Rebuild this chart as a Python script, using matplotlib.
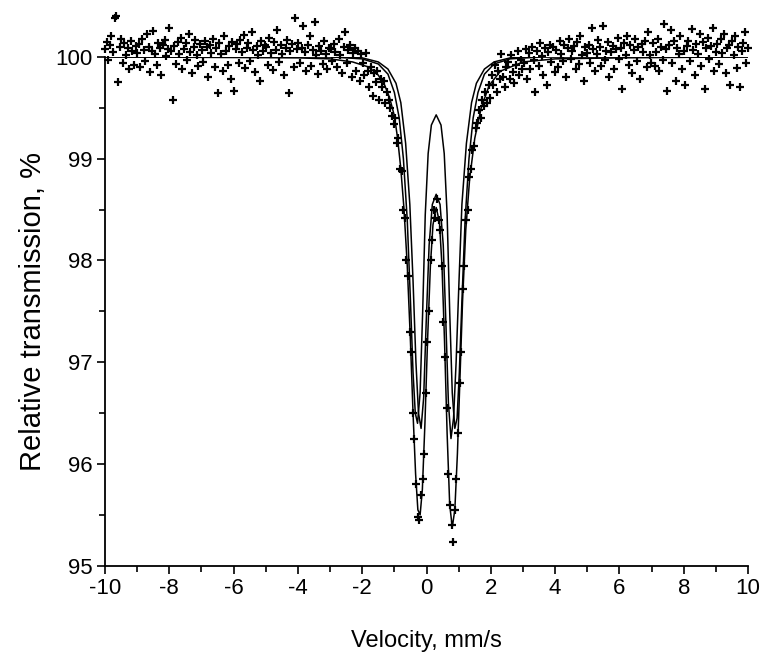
import numpy as np
import matplotlib
matplotlib.use("Agg")
import matplotlib.pyplot as plt
from matplotlib.ticker import MultipleLocator

plt.rcParams['font.family'] = ['Liberation Sans', 'DejaVu Sans']
plt.rcParams['axes.unicode_minus'] = False

# measured spectrum: 400 velocity channels, deviation from 100 % in hundredths of a percent
v_min, v_max, n_chan = -10.0, 10.0, 400
dev = [
    8, 15, -3, 12, 20, 5, 38, 40, -25, 10, 18, -6, 14, 2, 9, -12, 16, 6, -8, 11,
    4, 13, -10, 18, 7, -4, 22, 10, -15, 6, 25, 3, -8, 14, 9, -18, 12, 17, 1, 8,
    28, 6, -42, 11, -7, 15, 3, 19, -12, 8, 14, -3, 22, 5, -16, 10, 17, 2, -9, 13,
    7, -5, 16, 10, -20, 12, 4, 18, -10, 9, -36, 14, 3, -14, 20, 6, -8, 11, -22, 15,
    -34, 8, 13, -6, 17, 5, 21, -11, 9, 14, -4, 24, 7, -15, 11, 2, -24, 16, 6, 12,
    10, -8, 19, 4, -13, 15, 7, 26, -5, 12, 3, -18, 9, 17, -36, 6, 13, -10, 38, 8,
    14, -6, 9, 30, 5, -14, 12, 20, -9, 7, 34, 2, -17, 11, 6, -7, 16, 3, -12, 9,
    8, -4, 13, 5, -10, 18, 2, -16, 10, 24, -6, 7, 12, -20, 4, 9, -14, 6, -24, 3,
    -6, -18, 4, -14, -30, -10, -38, -16, -25, -14, -42, -22, -30, -24, -45, -35, -42, -50, -58, -66,
    -60, -85, -80, -110, -112, -150, -158, -200, -215, -270, -290, -350, -375, -420, -452, -455, -430, -415, -390, -330,
    -280, -250, -200, -180, -150, -158, -140, -160, -170, -205, -260, -295, -345, -410, -440, -460, -477, -445, -415, -370,
    -320, -290, -228, -205, -160, -150, -118, -110, -92, -88, -70, -65, -52, -60, -42, -48, -35, -45, -28, -40,
    -18, -28, -8, -35, -14, -22, 3, -20, -30, -10, -5, -22, 2, -15, -26, -8, 6, -18, -3, -12,
    -6, 8, -22, 4, -12, 10, -3, -35, 6, -9, 14, 1, -18, 9, -28, 5, 12, -5, 10, -15,
    7, -10, 16, 3, -4, 12, -20, 9, 18, -2, 6, 11, -12, 15, -7, 20, 2, -24, 10, 4,
    12, -6, 28, 8, -14, 3, 17, 10, -9, 30, -3, 6, 15, -20, 5, 11, -12, 8, 19, -2,
    9, -32, 14, 2, 20, -8, 12, -16, 7, 18, -4, 10, -22, 13, 5, 16, -10, 24, 2, -6,
    14, -9, 5, 18, -14, 10, -3, 32, 8, -34, 12, 26, -6, 16, -24, 9, 3, 20, -12, 6,
    -28, 11, 16, -4, 27, 7, -18, 13, 3, 22, -9, 15, -32, 9, 19, -2, 11, 28, -14, 5,
    13, -7, 18, 4, 22, -16, 9, 12, -28, 16, 2, 20, -11, 10, -30, 6, 14, 24, -6, 9,
]

# fitted envelope
fit_v = [-10, -4, -3, -2.3, -1.8, -1.5, -1.3, -1.15, -1.0, -0.9, -0.8, -0.7, -0.6, -0.5, -0.42,
         -0.34, -0.27, -0.2, -0.13, -0.05, 0.03, 0.12, 0.2, 0.3, 0.4, 0.48, 0.56, 0.64, 0.72,
         0.8, 0.88, 0.96, 1.04, 1.12, 1.22, 1.34, 1.5, 1.7, 1.95, 2.3, 3, 4, 6, 10]
fit_t = [100.0, 99.99, 99.98, 99.95, 99.9, 99.82, 99.72, 99.6, 99.42, 99.2, 98.9, 98.5, 97.95, 97.2, 96.5,
         95.9, 95.55, 95.5, 95.75, 96.4, 97.2, 97.95, 98.35, 98.52, 98.38, 97.95, 97.2, 96.3, 95.6,
         95.38, 95.55, 96.1, 96.85, 97.6, 98.3, 98.8, 99.2, 99.5, 99.72, 99.86, 99.95, 99.98, 99.99, 100.0]

# doublet 1 (wide splitting)
d1_v = [-10, -3, -2, -1.5, -1.2, -1.0, -0.85, -0.72, -0.6, -0.5, -0.42, -0.35, -0.28, -0.2, -0.12,
        -0.04, 0.05, 0.15, 0.3, 0.45, 0.55, 0.64, 0.72, 0.8, 0.88, 0.95, 1.02, 1.1, 1.2, 1.32,
        1.45, 1.6, 1.8, 2.1, 2.6, 3.6, 10]
d1_t = [100.0, 100.0, 99.98, 99.93, 99.83, 99.65, 99.4, 99.0, 98.4, 97.6, 96.9, 96.5, 96.4, 96.7, 97.5,
        98.45, 99.05, 99.33, 99.43, 99.33, 99.05, 98.45, 97.5, 96.7, 96.35, 96.45, 96.9, 97.6, 98.4, 99.0,
        99.4, 99.65, 99.83, 99.93, 99.98, 100.0, 100.0]

# doublet 2 (narrow splitting)
d2_v = [-10, -3, -2, -1.5, -1.2, -0.95, -0.8, -0.65, -0.52, -0.42, -0.33, -0.25, -0.17, -0.09, -0.01,
        0.08, 0.18, 0.3, 0.42, 0.52, 0.6, 0.68, 0.76, 0.84, 0.92, 1.01, 1.1, 1.24, 1.4, 1.55,
        1.8, 2.1, 2.6, 3.6, 10]
d2_t = [100.0, 100.0, 99.99, 99.95, 99.88, 99.74, 99.55, 99.15, 98.55, 97.8, 97.0, 96.5, 96.35, 96.65, 97.4,
        98.15, 98.55, 98.65, 98.55, 98.15, 97.4, 96.6, 96.25, 96.45, 97.0, 97.8, 98.55, 99.15, 99.55, 99.74,
        99.88, 99.95, 99.99, 100.0, 100.0]

velocity = np.linspace(v_min, v_max, n_chan)
trans = 100 + np.array(dev) / 100.0

fig = plt.figure(figsize=(7.61, 6.61), dpi=100)
ax = fig.add_axes([0.138, 0.144, 0.845, 0.770])

ax.plot(velocity, trans, linestyle='none', marker='+', color='black',
        markersize=5.5, markeredgewidth=1.6, clip_on=False)
for xs, ys in [(fit_v, fit_t), (d1_v, d1_t), (d2_v, d2_t)]:
    ax.plot(xs, ys, color='black', linewidth=1.1)

ax.set_xlim(-10, 10)
ax.set_ylim(95, 100)
ax.xaxis.set_major_locator(MultipleLocator(2))
ax.xaxis.set_minor_locator(MultipleLocator(1))
ax.yaxis.set_major_locator(MultipleLocator(1))
ax.yaxis.set_minor_locator(MultipleLocator(0.5))
ax.tick_params(which='major', direction='out', length=6, width=1.2, labelsize=16, pad=3)
ax.tick_params(which='minor', direction='out', length=4, width=1.2)
ax.spines['top'].set_visible(False)
ax.spines['right'].set_visible(False)
ax.spines['left'].set_linewidth(1.3)
ax.spines['bottom'].set_linewidth(1.3)

ax.set_xlabel('Velocity, mm/s', fontsize=17, labelpad=22)
ax.set_ylabel('Relative transmission, %', fontsize=21, labelpad=6)

fig.savefig('out.png', dpi=100)
